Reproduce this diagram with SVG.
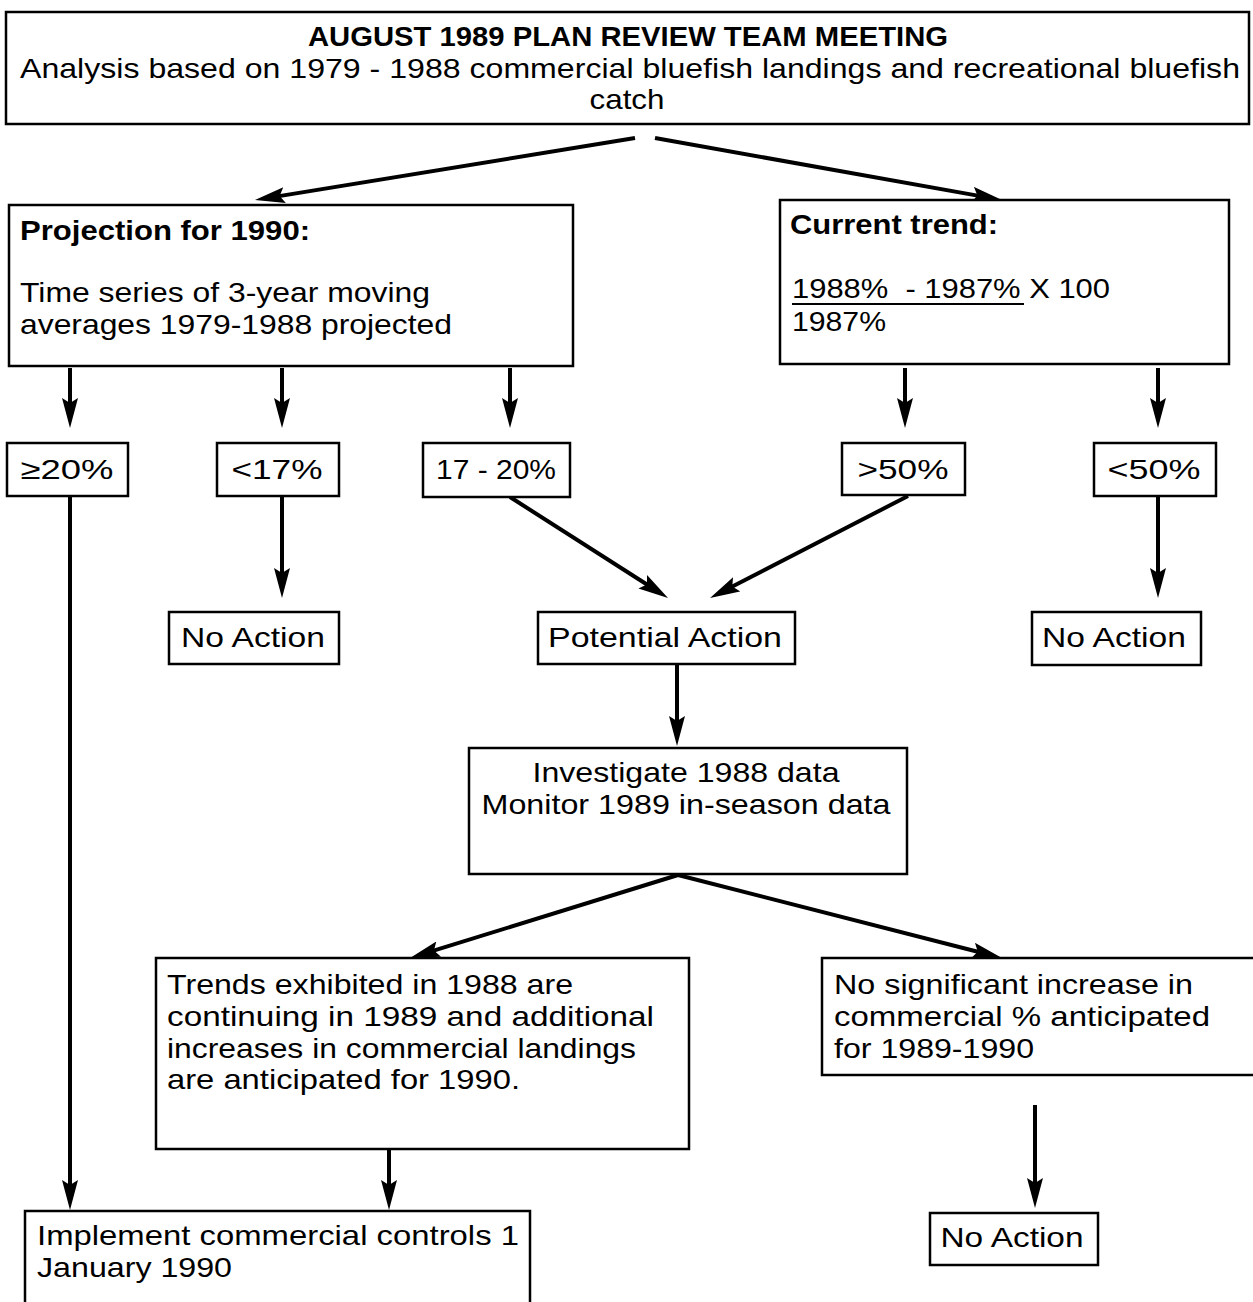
<svg xmlns="http://www.w3.org/2000/svg" width="1253" height="1302" viewBox="0 0 1253 1302">
<defs>
<marker id="ah" viewBox="0 0 30 16" refX="18" refY="8" markerWidth="30" markerHeight="16" markerUnits="userSpaceOnUse" orient="auto">
<path d="M0,0 L30,8 L0,16 L5,8 z" fill="#000"/>
</marker>
<style>
.box{fill:#fff;stroke:#000;stroke-width:2.5}
.t{font-family:"Liberation Sans","Open Sans",sans-serif;font-size:28px;fill:#000}
.b{font-weight:bold}
.c{text-anchor:middle}
.ar{stroke:#000;stroke-width:4;fill:none;marker-end:url(#ah)}
</style>
</defs>
<rect width="1253" height="1302" fill="#fff"/>

<g id="connectors">
<line class="ar" x1="635" y1="138" x2="266.8" y2="198.1"/>
<line class="ar" x1="655" y1="138" x2="990.2" y2="197.9"/>
<line class="ar" x1="70" y1="368" x2="70" y2="416"/>
<line class="ar" x1="282" y1="368" x2="282" y2="416"/>
<line class="ar" x1="510" y1="368" x2="510" y2="416"/>
<line class="ar" x1="905" y1="368" x2="905" y2="416"/>
<line class="ar" x1="1158" y1="368" x2="1158" y2="416"/>
<line class="ar" x1="70" y1="497" x2="70" y2="1198"/>
<line class="ar" x1="282" y1="497" x2="282" y2="586"/>
<line class="ar" x1="510" y1="497" x2="657.9" y2="591.5"/>
<line class="ar" x1="908" y1="496" x2="720.7" y2="592.5"/>
<line class="ar" x1="1158" y1="497" x2="1158" y2="586"/>
<line class="ar" x1="677" y1="665" x2="677" y2="734"/>
<line class="ar" x1="678" y1="875" x2="421.5" y2="954.4"/>
<line class="ar" x1="678" y1="875" x2="990.4" y2="955"/>
<line class="ar" x1="389" y1="1150" x2="389" y2="1198"/>
<line class="ar" x1="1035" y1="1105" x2="1035" y2="1196"/>
</g>

<g id="header">
<rect class="box" x="6" y="12" width="1243" height="112"/>
<text class="t b c" x="628" y="46" textLength="640" lengthAdjust="spacingAndGlyphs">AUGUST 1989 PLAN REVIEW TEAM MEETING</text>
<text class="t c" x="630" y="78" textLength="1220" lengthAdjust="spacingAndGlyphs">Analysis based on 1979 - 1988 commercial bluefish landings and recreational bluefish</text>
<text class="t c" x="627" y="109" textLength="75" lengthAdjust="spacingAndGlyphs">catch</text>
</g>

<g id="projection">
<rect class="box" x="9" y="205" width="564" height="161"/>
<text class="t b" x="20" y="240" textLength="290" lengthAdjust="spacingAndGlyphs">Projection for 1990:</text>
<text class="t" x="20" y="302" textLength="410" lengthAdjust="spacingAndGlyphs">Time series of 3-year moving</text>
<text class="t" x="20" y="334" textLength="432" lengthAdjust="spacingAndGlyphs">averages 1979-1988 projected</text>
</g>

<g id="current">
<rect class="box" x="780" y="200" width="449" height="164"/>
<text class="t b" x="790" y="234" textLength="208" lengthAdjust="spacingAndGlyphs">Current trend:</text>
<text class="t" x="792" y="298" textLength="318" lengthAdjust="spacingAndGlyphs" style="white-space:pre">1988%  - 1987% X 100</text>
<line x1="792" y1="304" x2="1024" y2="304" stroke="#000" stroke-width="2"/>
<text class="t" x="792" y="331" textLength="94" lengthAdjust="spacingAndGlyphs">1987%</text>
</g>

<g id="ge20">
<rect class="box" x="7" y="443" width="121" height="53"/>
<text class="t c" x="67" y="479" textLength="93" lengthAdjust="spacingAndGlyphs">≥20%</text>
</g>
<g id="lt17">
<rect class="box" x="217" y="443" width="122" height="53"/>
<text class="t c" x="277" y="479" textLength="91" lengthAdjust="spacingAndGlyphs">&lt;17%</text>
</g>
<g id="r17to20">
<rect class="box" x="423" y="443" width="147" height="54"/>
<text class="t c" x="496" y="479" textLength="120" lengthAdjust="spacingAndGlyphs">17 - 20%</text>
</g>
<g id="gt50">
<rect class="box" x="842" y="443" width="123" height="52"/>
<text class="t c" x="903" y="479" textLength="91" lengthAdjust="spacingAndGlyphs">&gt;50%</text>
</g>
<g id="lt50">
<rect class="box" x="1094" y="443" width="122" height="53"/>
<text class="t c" x="1154" y="479" textLength="93" lengthAdjust="spacingAndGlyphs">&lt;50%</text>
</g>

<g id="noaction1">
<rect class="box" x="169" y="612" width="170" height="52"/>
<text class="t c" x="253" y="647" textLength="144" lengthAdjust="spacingAndGlyphs">No Action</text>
</g>
<g id="potential">
<rect class="box" x="538" y="612" width="257" height="52"/>
<text class="t c" x="665" y="647" textLength="234" lengthAdjust="spacingAndGlyphs">Potential Action</text>
</g>
<g id="noaction2">
<rect class="box" x="1032" y="612" width="169" height="53"/>
<text class="t c" x="1114" y="647" textLength="144" lengthAdjust="spacingAndGlyphs">No Action</text>
</g>

<g id="investigate">
<rect class="box" x="469" y="748" width="438" height="126"/>
<text class="t c" x="686" y="782" textLength="307" lengthAdjust="spacingAndGlyphs">Investigate 1988 data</text>
<text class="t c" x="686" y="814" textLength="409" lengthAdjust="spacingAndGlyphs">Monitor 1989 in-season data</text>
</g>

<g id="trends">
<rect class="box" x="156" y="958" width="533" height="191"/>
<text class="t" x="167" y="994" textLength="406" lengthAdjust="spacingAndGlyphs">Trends exhibited in 1988 are</text>
<text class="t" x="167" y="1026" textLength="487" lengthAdjust="spacingAndGlyphs">continuing in 1989 and additional</text>
<text class="t" x="167" y="1058" textLength="469" lengthAdjust="spacingAndGlyphs">increases in commercial landings</text>
<text class="t" x="167" y="1089" textLength="353" lengthAdjust="spacingAndGlyphs">are anticipated for 1990.</text>
</g>

<g id="nosignificant">
<rect class="box" x="822" y="958" width="433" height="117"/>
<text class="t" x="834" y="994" textLength="359" lengthAdjust="spacingAndGlyphs">No significant increase in</text>
<text class="t" x="834" y="1026" textLength="376" lengthAdjust="spacingAndGlyphs">commercial % anticipated</text>
<text class="t" x="834" y="1058" textLength="200" lengthAdjust="spacingAndGlyphs">for 1989-1990</text>
</g>

<g id="implement">
<rect class="box" x="25" y="1211" width="505" height="100"/>
<text class="t" x="37" y="1245" textLength="482" lengthAdjust="spacingAndGlyphs">Implement commercial controls 1</text>
<text class="t" x="37" y="1277" textLength="195" lengthAdjust="spacingAndGlyphs">January 1990</text>
</g>

<g id="noaction3">
<rect class="box" x="930" y="1213" width="168" height="52"/>
<text class="t c" x="1012" y="1247" textLength="143" lengthAdjust="spacingAndGlyphs">No Action</text>
</g>
</svg>
